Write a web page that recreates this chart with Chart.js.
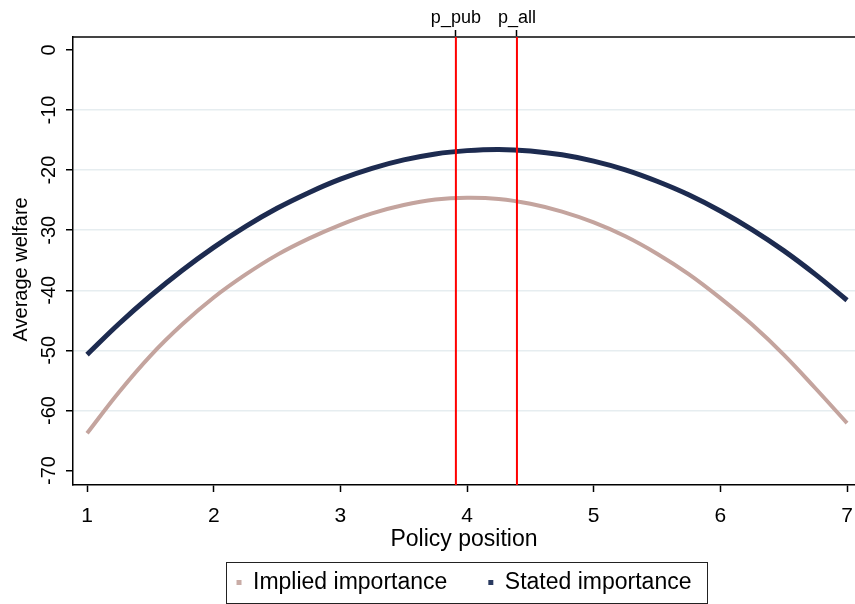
<!DOCTYPE html>
<html><head><meta charset="utf-8">
<script src="https://cdn.jsdelivr.net/npm/chart.js@4/dist/chart.umd.min.js"></script>
<style>html,body{margin:0;padding:0;background:#fff;overflow:hidden}canvas{display:block}</style>
</head><body><canvas id="c" width="855" height="604"></canvas>
<script>
// ---- data ----
const policyPositions = [1, 1.25, 1.5, 1.75, 2, 2.25, 2.5, 2.75, 3, 3.25, 3.5, 3.75, 4,
                         4.25, 4.5, 4.75, 5, 5.25, 5.5, 5.75, 6, 6.25, 6.5, 6.75, 7];
const impliedWelfare  = [-63.8, -57.0, -50.9, -45.7, -41.2, -37.4, -34.1, -31.4, -29.1, -27.2, -25.8, -24.9, -24.6,
                         -24.8, -25.6, -26.9, -28.7, -31.0, -33.9, -37.3, -41.3, -45.7, -50.7, -56.3, -62.1];
const statedWelfare   = [-50.7, -45.6, -40.95, -36.7, -32.85, -29.4, -26.35, -23.75, -21.5, -19.7, -18.3, -17.3, -16.75,
                         -16.55, -16.8, -17.45, -18.5, -19.95, -21.85, -24.1, -26.8, -29.9, -33.4, -37.35, -41.65];
const seriesLabels = ['Implied importance', 'Stated importance'];
const xTickValues = [1, 2, 3, 4, 5, 6, 7];
const yTickValues = [0, -10, -20, -30, -40, -50, -60, -70];
const refLineValues = [3.912, 4.394];
const refLineLabels = ['p_pub', 'p_all'];

// ---- styling / layout ----
const FONT = '"Liberation Sans", Arial, sans-serif';
const NAVY = '#1d2b50';
const PINK = '#c4a49e';
const X_MIN = 0.889, X_MAX = 7.063, Y_MIN = -72.4, Y_MAX = 2.16;

const toPoints = (ys) => policyPositions.map((x, i) => ({x, y: ys[i]}));
const refLineData = (v) => [{x: v, y: Y_MAX}, {x: v, y: Y_MIN}];
const noPad = (s) => { s.paddingLeft = 0; s.paddingRight = 0; s.paddingTop = 0; s.paddingBottom = 0; };

const legendFrame = {
  id: 'legendFrame',
  afterDraw(chart) {
    const lg = chart.legend;
    const hb = lg && lg.legendHitBoxes;
    if (!hb || !hb.length) return;
    const ctx = chart.ctx;
    const left = Math.min(...hb.map(h => h.left)) - 11;
    const right = Math.max(...hb.map(h => h.left + h.width)) + 15;
    const top = hb[0].top - 9;
    const bottom = hb[0].top + hb[0].height + 9;
    ctx.save();
    ctx.strokeStyle = '#222';
    ctx.lineWidth = 1;
    ctx.strokeRect(Math.round(left) + 0.5, Math.round(top) + 0.5, Math.round(right - left), Math.round(bottom - top));
    ctx.restore();
  }
};

new Chart(document.getElementById('c'), {
  type: 'line',
  data: {
    datasets: [
      {label: seriesLabels[0], data: toPoints(impliedWelfare), borderColor: PINK, backgroundColor: '#c9aca6',
       borderWidth: 4, pointRadius: 0, pointStyle: 'rect', tension: 0.4, order: 1, fill: false},
      {label: seriesLabels[1], data: toPoints(statedWelfare), borderColor: NAVY, backgroundColor: '#2a3a60',
       borderWidth: 5, pointRadius: 0, pointStyle: 'rect', tension: 0.4, order: 2, fill: false},
      {label: refLineLabels[0], data: refLineData(refLineValues[0]), borderColor: '#ff0000', borderWidth: 2,
       pointRadius: 0, order: 0, fill: false},
      {label: refLineLabels[1], data: refLineData(refLineValues[1]), borderColor: '#ff0000', borderWidth: 2,
       pointRadius: 0, order: 0, fill: false}
    ]
  },
  options: {
    responsive: false,
    animation: false,
    devicePixelRatio: 1,
    layout: {padding: 0},
    plugins: {
      tooltip: {enabled: false},
      legend: {
        position: 'bottom',
        fullSize: false,
        labels: {
          font: {family: FONT, size: 23},
          color: '#000',
          usePointStyle: true,
          boxWidth: 5, boxHeight: 5,
          padding: 41,
          generateLabels(chart) {
            const items = Chart.defaults.plugins.legend.labels.generateLabels(chart);
            return items.filter(i => i.datasetIndex < 2)
              .map(i => Object.assign(i, {lineWidth: 0, strokeStyle: 'rgba(0,0,0,0)', pointStyle: 'rect'}));
          }
        }
      }
    },
    scales: {
      x: {
        type: 'linear', position: 'bottom', min: X_MIN, max: X_MAX,
        afterBuildTicks: (s) => { s.ticks = xTickValues.map(v => ({value: v})); },
        afterFit: (s) => { s.height = 45; noPad(s); },
        grid: {drawOnChartArea: false, drawTicks: true, tickLength: 7, tickColor: '#000', tickWidth: 1.5},
        border: {display: true, color: '#000', width: 1.5},
        ticks: {font: {family: FONT, size: 21}, color: '#000', padding: 12, maxRotation: 0, autoSkip: false},
        title: {display: true, text: 'Policy position', font: {family: FONT, size: 23}, color: '#000',
                padding: {top: 0, bottom: -23.5}}
      },
      xTop: {
        type: 'linear', position: 'top', min: X_MIN, max: X_MAX,
        afterBuildTicks: (s) => { s.ticks = refLineValues.map(v => ({value: v})); },
        afterFit: (s) => { s.height = 37; noPad(s); },
        grid: {drawOnChartArea: false, drawTicks: true, tickLength: 7, tickColor: '#000', tickWidth: 1.5},
        border: {display: true, color: '#444', width: 2},
        ticks: {font: {family: FONT, size: 18}, color: '#000', padding: 1, maxRotation: 0, autoSkip: false,
                callback: (v) => { const i = refLineValues.indexOf(v); return i >= 0 ? refLineLabels[i] : ''; }}
      },
      y: {
        type: 'linear', position: 'left', min: Y_MIN, max: Y_MAX,
        afterBuildTicks: (s) => { s.ticks = yTickValues.map(v => ({value: v})); },
        afterFit: (s) => { s.width = 73; noPad(s); },
        grid: {
          drawOnChartArea: true, drawTicks: true, tickLength: 7, tickColor: '#000', tickWidth: 1.5,
          color: (c) => (c.tick && (c.tick.value === 0 || c.tick.value === -70)) ? 'rgba(0,0,0,0)' : '#e6edf0',
          lineWidth: 1.5
        },
        border: {display: true, color: '#000', width: 1.5},
        ticks: {font: {family: FONT, size: 20}, color: '#000', padding: 2, minRotation: 90, maxRotation: 90,
                crossAlign: 'center', autoSkip: false},
        title: {display: true, text: 'Average welfare   ', font: {family: FONT, size: 20}, color: '#000',
                padding: {top: 9, bottom: 0}}
      }
    }
  },
  plugins: [legendFrame]
});
</script>
</body></html>
